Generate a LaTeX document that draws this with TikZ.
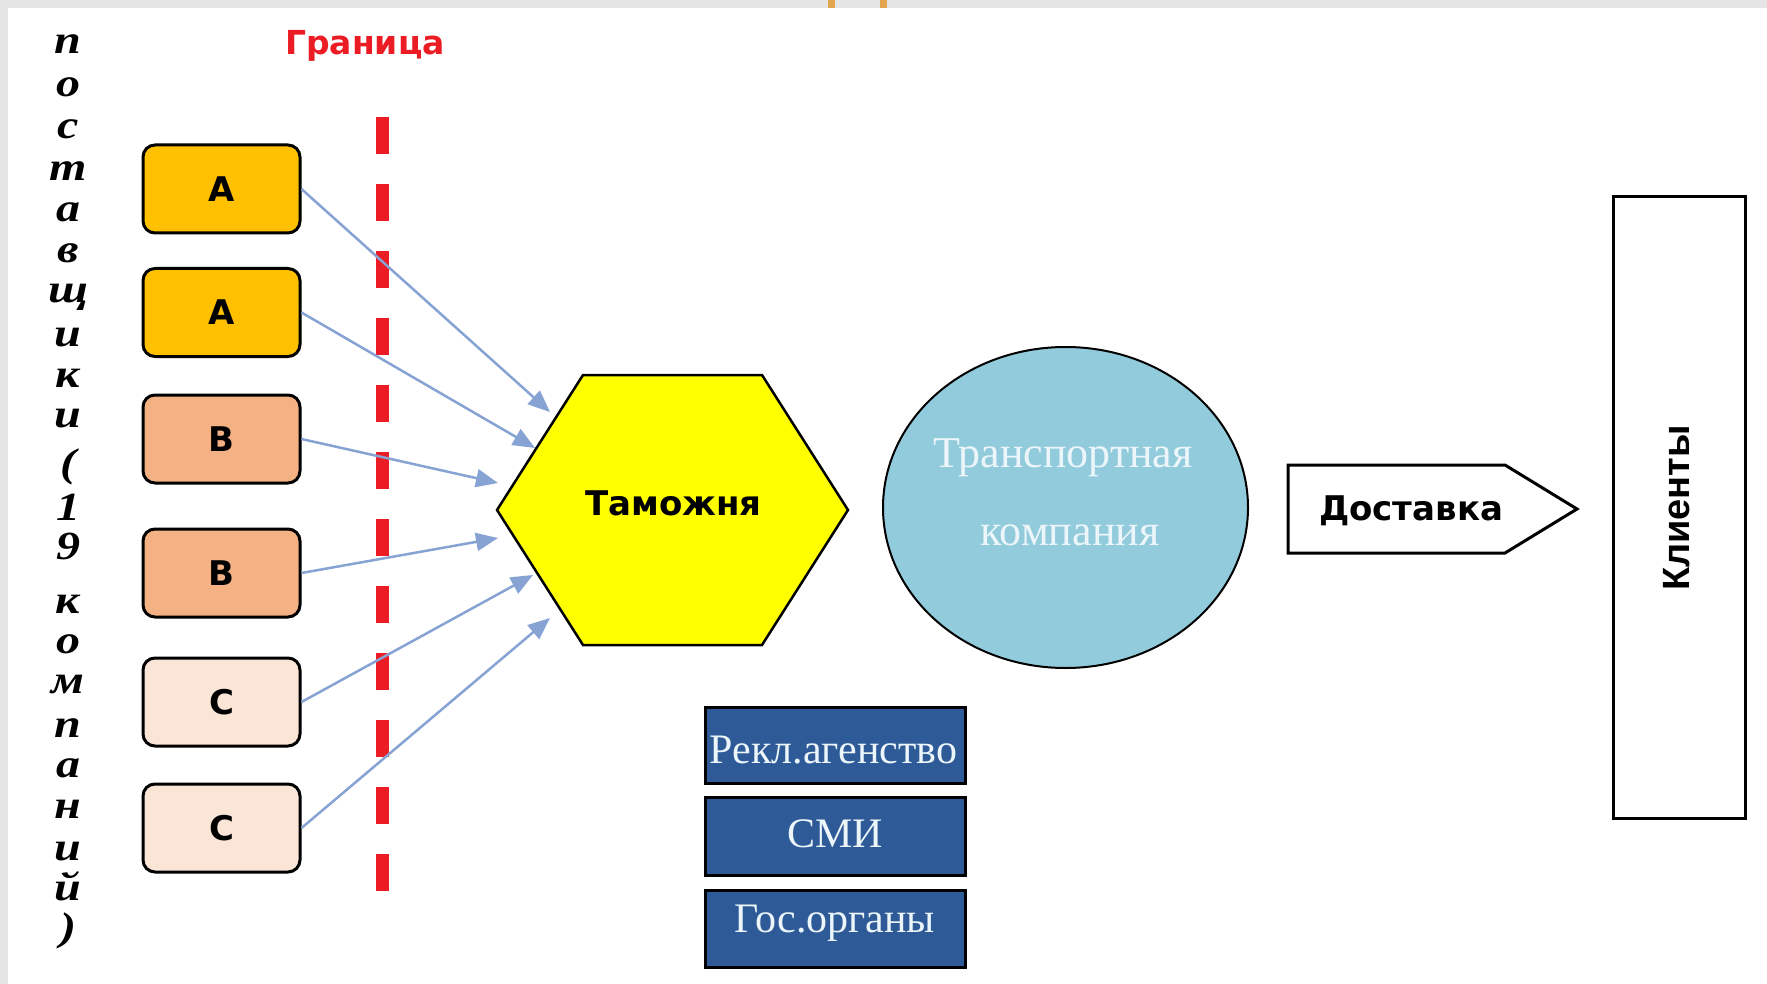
\documentclass[tikz,border=0pt]{standalone}
\usepackage{fontspec}
\setmainfont{Liberation Serif}
\newfontfamily\dvs{DejaVu Sans}
\newfontfamily\lsans{Liberation Sans}
\usetikzlibrary{arrows.meta,shapes.geometric}
\definecolor{cA}{RGB}{255,192,0}
\definecolor{cB}{RGB}{244,177,131}
\definecolor{cC}{RGB}{251,229,214}
\definecolor{arr}{RGB}{134,163,212}
\definecolor{redline}{RGB}{235,28,36}
\definecolor{hexy}{RGB}{255,255,0}
\definecolor{tcol}{RGB}{146,204,220}
\definecolor{blu}{RGB}{46,90,152}
\definecolor{greyb}{RGB}{229,229,229}
\definecolor{orng}{RGB}{226,166,80}
\definecolor{paletxt}{RGB}{236,246,250}
\newcommand\vl[1]{\scalebox{1.2}[1]{#1}}
\begin{document}
\begin{tikzpicture}[x=1pt,y=-1pt,
  supbox/.style={draw=black, line width=3pt, rounded corners=12pt, minimum width=157pt, minimum height=88pt, inner sep=0pt, font=\dvs\bfseries\fontsize{34}{40}\selectfont, text height=25pt, text depth=0pt},
  flow/.style={draw=arr, line width=2.5pt, -{Triangle[length=22pt,width=18pt]}},
  vlet/.style={anchor=base, inner sep=0pt, font=\bfseries\itshape\fontsize{40}{40}\selectfont},
  bluebox/.style={draw=black, fill=blu, line width=3pt, minimum width=260pt, inner sep=0pt},
  bluetxt/.style={anchor=base, inner sep=0pt, text=paletxt, font=\fontsize{42}{42}\selectfont},
  sanslbl/.style={inner sep=0pt, font=\dvs\bfseries\fontsize{34}{40}\selectfont, text height=25pt, text depth=0pt}]
\useasboundingbox (0,0) rectangle (1767,984);
\fill[white] (0,0) rectangle (1767,984);
% frame strips
\fill[greyb] (0,0) rectangle (1767,8);
\fill[greyb] (0,0) rectangle (8,984);
\fill[orng] (828,0) rectangle (835,8);
\fill[orng] (880,0) rectangle (887,8);
% vertical label
\foreach \l/\yy [count=\i] in {п/54,о/97,с/139,т/181,а/222,в/263,щ/302,и/346,к/387,и/427,1/520,9/559,к/613,о/653,м/693,п/737,а/777,н/818,и/860,й/900}
  \node[vlet] (v\i) at (68,\yy) {\vl{\l}};
\node[vlet] (vlp) at (68,476) {\vl{(}};
\node[vlet] (vrp) at (68,940) {\vl{)}};
% border
\node[inner sep=0pt, text=redline, font=\dvs\bfseries\fontsize{33}{36}\selectfont, text height=24pt, text depth=0pt] (gr) at (365,43) {Граница};
\draw[redline, line width=13pt, dash pattern=on 37pt off 30pt] (382,117) -- (382,891);
% suppliers
\node[supbox, fill=cA] (a1) at (221.5,189) {A};
\node[supbox, fill=cA] (a2) at (221.5,312.5) {A};
\node[supbox, fill=cB] (b1) at (221.5,439) {B};
\node[supbox, fill=cB] (b2) at (221.5,573) {B};
\node[supbox, fill=cC] (c1) at (221.5,702) {C};
\node[supbox, fill=cC] (c2) at (221.5,828) {C};
% customs hexagon
\draw[fill=hexy, line width=2.5pt, line join=miter] (497,510) -- (583,375) -- (762,375) -- (848,510) -- (762,645) -- (583,645) -- cycle;
\node[sanslbl] (hex) at (673.5,502.5) {Таможня};
\coordinate (t1) at (550,412);
\coordinate (t2) at (535,448);
\coordinate (t3) at (498,483);
\coordinate (t4) at (498,538);
\coordinate (t5) at (533,575);
\coordinate (t6) at (550,618);
\draw[flow] (a1.east) -- (t1);
\draw[flow] (a2.east) -- (t2);
\draw[flow] (b1.east) -- (t3);
\draw[flow] (b2.east) -- (t4);
\draw[flow] (c1.east) -- (t5);
\draw[flow] (c2.east) -- (t6);
% transport company
\node[ellipse, draw=black, line width=2pt, fill=tcol, minimum width=365pt, minimum height=321pt, inner sep=0pt] (tc) at (1065.5,507.5) {};
\node[anchor=base, inner sep=0pt, text=paletxt, font=\fontsize{44}{44}\selectfont] (tc1) at (1063,467) {Транспортная};
\node[anchor=base, inner sep=0pt, text=paletxt, font=\fontsize{44}{44}\selectfont] (tc2) at (1070,545) {компания};
% media boxes
\node[bluebox, minimum height=76pt] (r1) at (835,745) {};
\node[bluebox, minimum height=78pt] (r2) at (835,836) {};
\node[bluebox, minimum height=77pt] (r3) at (835,928.5) {};
\node[bluetxt] (r1t) at (833.5,763) {Рекл.агенство};
\node[bluetxt] (r2t) at (835,847) {СМИ};
\node[bluetxt] (r3t) at (835,932) {Гос.органы};
% delivery
\draw[fill=white, line width=3pt, line join=miter] (1288,465) -- (1505,465) -- (1577,509) -- (1505,553) -- (1288,553) -- cycle;
\node[sanslbl] (dl) at (1411,507.5) {Доставка};
% clients
\node[draw=black, line width=3pt, minimum width=132pt, minimum height=621pt, inner sep=0pt] (cl) at (1679,507.5) {};
\node[rotate=90, inner sep=0pt, font=\lsans\bfseries\fontsize{38}{40}\selectfont] (clt) at (1677,508) {Клиенты};
\end{tikzpicture}
\end{document}
